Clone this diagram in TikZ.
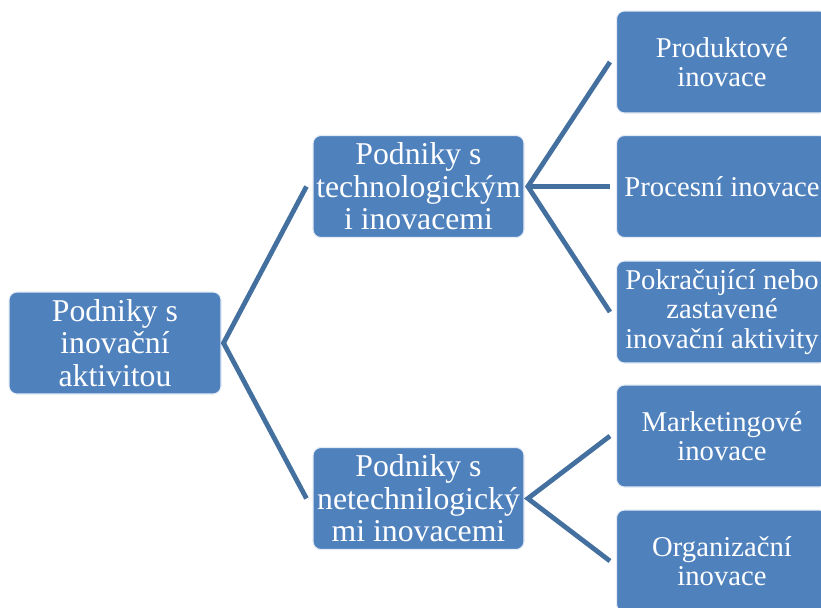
\documentclass[tikz,border=0pt]{standalone}
\usepackage{fontspec}
\setmainfont{Liberation Serif}
\newfontfamily\tnr{Liberation Serif}
\definecolor{boxblue}{HTML}{4F81BD}
\definecolor{lineblue}{HTML}{44709F}
\begin{document}
\begin{tikzpicture}[x=0.75pt,y=-0.75pt,
  bx/.style={draw=white!85!boxblue,line width=0.8pt,fill=boxblue,rounded corners=6pt,
    minimum width=158.25pt,minimum height=76.5pt,inner sep=0pt,
    text=white,align=center,font=\tnr\fontsize{21.5}{22.2}\selectfont},
  bigbx/.style={bx,font=\tnr\fontsize{23.8}{24.4}\selectfont},
  conn/.style={draw=lineblue,line width=3.6pt,line join=miter}]
\useasboundingbox (0,0) rectangle (821,607);
\clip (0,0) rectangle (821,607);
\node[bigbx,minimum width=159pt] (root) at (115,343) {Podniky s\\inovační\\aktivitou};
\node[bigbx] (t1) at (418.5,186.5) {Podniky s\\technologickým\\i inovacemi};
\node[bigbx] (t2) at (418.5,498.5) {Podniky s\\netechnilogický\\mi inovacemi};
\node[bx] (r1) at (722,62) {Produktové\\inovace};
\node[bx] (r2) at (722,186.5) {Procesní inovace};
\node[bx] (r3) at (722,312) {Pokračující nebo\\zastavené\\inovační aktivity};
\node[bx] (r4) at (722,436) {Marketingové\\inovace};
\node[bx] (r5) at (722,561) {Organizační\\inovace};
\coordinate (rj) at ([xshift=1.5pt]root.east);
\coordinate (j1) at ([xshift=2.5pt]t1.east);
\coordinate (j2) at ([xshift=2.5pt]t2.east);
\draw[conn] ([xshift=-4.5pt]t1.west) -- (rj) -- ([xshift=-4.5pt]t2.west);
\draw[conn] ([xshift=-4.5pt]r1.west) -- (j1) -- ([xshift=-4.5pt]r3.west);
\draw[conn] (j1) -- ([xshift=-4.5pt]r2.west);
\draw[conn] ([xshift=-4.5pt]r4.west) -- (j2) -- ([xshift=-4.5pt]r5.west);
\end{tikzpicture}
\end{document}
